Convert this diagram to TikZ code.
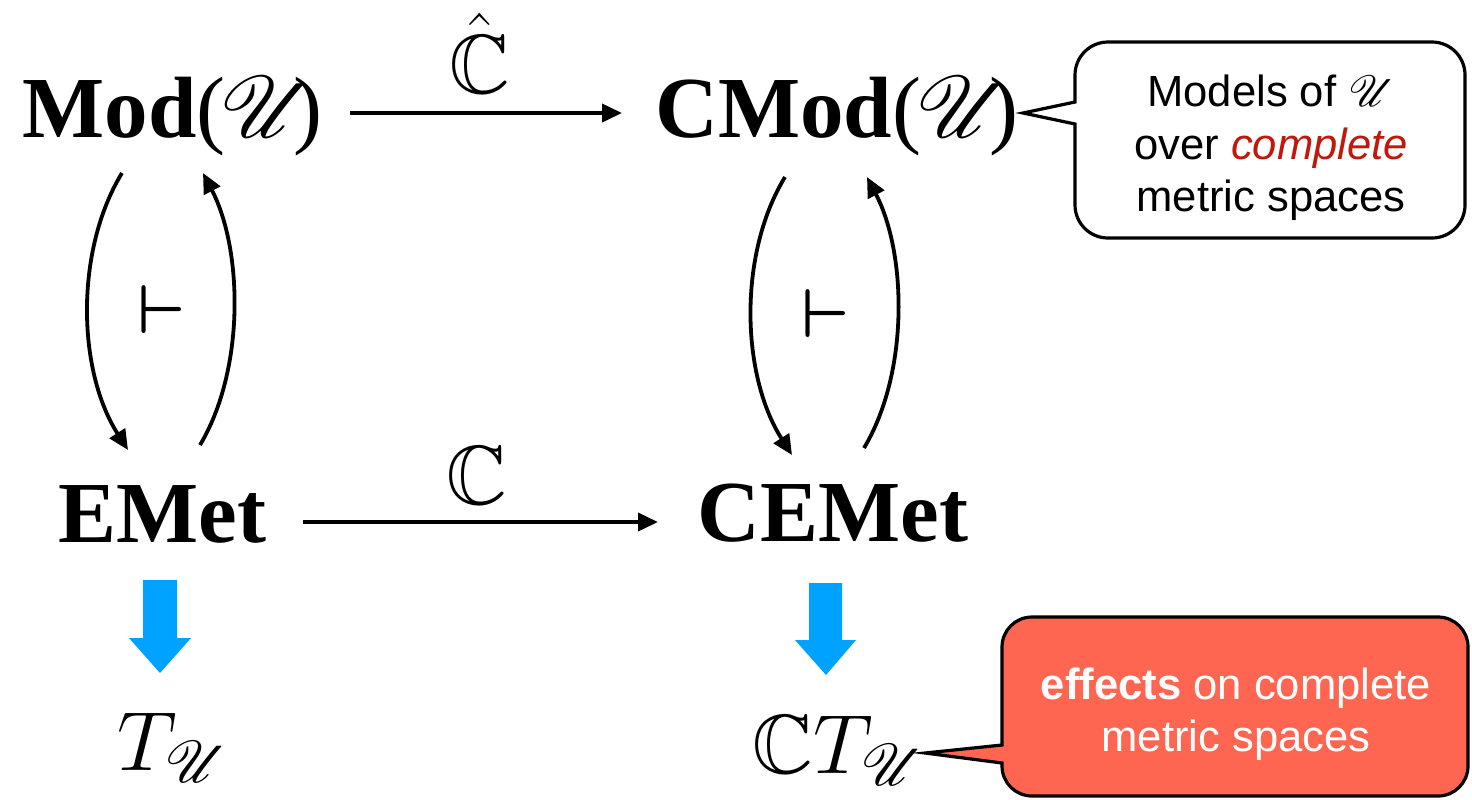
\documentclass[tikz,border=0pt]{standalone}
\usepackage{fix-cm}
\usepackage{amssymb}
\usepackage{mathrsfs}
\usepackage{bm}
\usepackage{fontspec}
\setmainfont{Liberation Serif}
\newfontfamily\callfont{Liberation Sans}
\DeclareFontFamily{U}{msb}{}
\DeclareFontShape{U}{msb}{m}{n}{<-6> msbm5 <6-8> msbm7 <8-> msbm10}{}
\DeclareFontFamily{U}{rsfs}{\skewchar\font127 }
\DeclareFontShape{U}{rsfs}{m}{n}{<-6> rsfs5 <6-8> rsfs7 <8-> rsfs10}{}
\usetikzlibrary{arrows.meta}
\definecolor{skyblue}{RGB}{0,162,255}
\definecolor{calloutred}{RGB}{255,102,82}
\definecolor{cred}{RGB}{192,24,12}
\tikzset{
  obj/.style={inner sep=0pt, anchor=base west, font=\fontsize{43.5}{50}\selectfont},
  mathobj/.style={inner sep=0pt, anchor=base west, font=\fontsize{42}{48}\selectfont},
  arr/.style={line width=1.9pt, -{Triangle[length=10pt,width=9pt]}},
  lbl/.style={inner sep=0pt, anchor=base, font=\fontsize{42}{48}\selectfont},
  adj/.style={inner sep=0pt, font=\fontsize{34.5}{40}\selectfont},
  calloutline/.style={line width=1.6pt, line join=miter},
  calltext/.style={inner sep=0pt, align=center, font=\callfont\fontsize{21.8}{26.25}\selectfont},
  bigarrow/.style={fill=skyblue},
}
\newcommand{\scrU}{\ensuremath{\mkern-1mu\mathscr{U}\mkern-4mu}}
\begin{document}
\begin{tikzpicture}[x=0.5pt,y=0.5pt]
\useasboundingbox (0,0) rectangle (1472,-799);
% objects
\node[obj] (mod) at (22,-137) {\textbf{Mod}(\scrU)};
\node[obj] (cmod) at (655,-137) {\textbf{CMod}(\scrU)};
\node[obj] (emet) at (58,-542) {\textbf{EMet}};
\node[obj] (cemet) at (697,-541) {\textbf{CEMet}};
\node[mathobj] (tu) at (117,-770) {$T_{\mathscr{U}}$};
\node[mathobj] (ctu) at (752,-773) {$\mathbb{C}T_{\mathscr{U}}$};
% horizontal arrows
\draw[arr] ([shift={(328,24)}]mod.base west) -- ([shift={(-33,24)}]cmod.base west)
  node[lbl, midway, xshift=-3pt, yshift=10pt] (chat) {$\hat{\mathbb{C}}$};
\draw[arr] ([shift={(245,20)}]emet.base west) -- ([shift={(-39,19)}]cemet.base west)
  node[lbl, midway, xshift=-1.75pt, yshift=9pt] (cc) {$\mathbb{C}$};
% adjunction arcs
\draw[arr] ([shift={(100,-36)}]mod.base west) .. controls +(-47,-77) and +(-51,80) .. ([shift={(70,92)}]emet.base west);
\draw[arr] ([shift={(142,97)}]emet.base west) .. controls +(45,75) and +(40,-77) .. ([shift={(181,-36)}]mod.base west);
\draw[arr] ([shift={(130,-40)}]cmod.base west) .. controls +(-47,-77) and +(-51,80) .. ([shift={(95,86)}]cemet.base west);
\draw[arr] ([shift={(167,93)}]cemet.base west) .. controls +(45,75) and +(40,-77) .. ([shift={(212,-40)}]cmod.base west);
\node[adj] (adj1) at (162,-310) {$\bm{\vdash}$};
\node[adj] (adj2) at (826,-314) {$\bm{\vdash}$};
% blue arrows
\fill[bigarrow] (143,-580) -- (177,-580) -- (177,-638) -- (191,-638) -- (160,-673) -- (129,-638) -- (143,-638) -- cycle;
\fill[bigarrow] (809,-583) -- (842,-583) -- (842,-640) -- (856,-640) -- (826,-675) -- (795,-640) -- (809,-640) -- cycle;
% callout 1
\draw[calloutline, fill=white] (1075,-124) -- (1075,-205) arc[start angle=180, end angle=270, radius=33]
  -- (1432,-238) arc[start angle=270, end angle=360, radius=33]
  -- (1465,-75) arc[start angle=0, end angle=90, radius=33]
  -- (1108,-42) arc[start angle=90, end angle=180, radius=33]
  -- (1075,-102) -- (1023,-113) -- cycle;
\node[calltext] (note1) at (1271,-148) {Models of $\mathscr{U}$\\ over {\itshape\color{cred}complete}\\ metric spaces};
% callout 2
\draw[calloutline, fill=calloutred] (1002,-763) -- (1002,-766) arc[start angle=180, end angle=270, radius=30]
  -- (1438,-796) arc[start angle=270, end angle=360, radius=30]
  -- (1468,-647) arc[start angle=0, end angle=90, radius=30]
  -- (1032,-617) arc[start angle=90, end angle=180, radius=30]
  -- (1002,-745) -- (925,-753) -- cycle;
\node[calltext, text=white] (note2) at (1236,-714) {\textbf{effects} on complete\\ metric spaces};
\end{tikzpicture}
\end{document}
